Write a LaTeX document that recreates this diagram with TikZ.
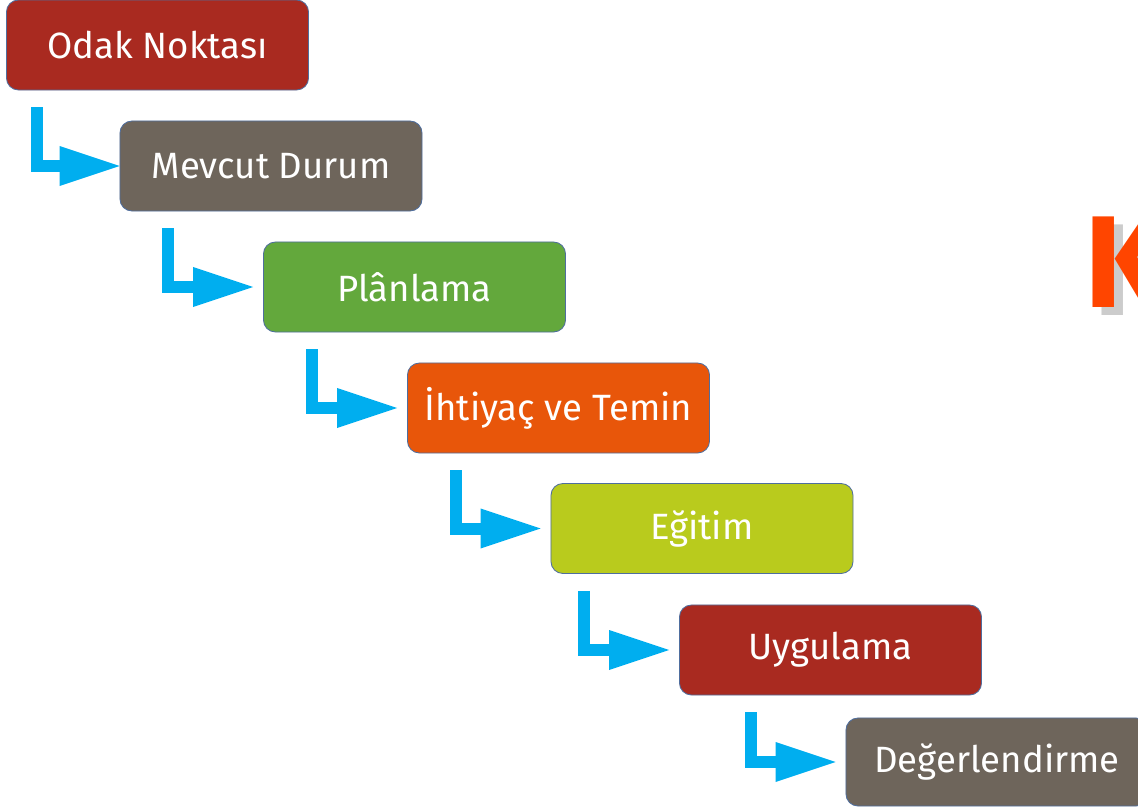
\documentclass[tikz,border=0pt]{standalone}
\usepackage{fontspec}
\setmainfont{Fira Sans}
\usetikzlibrary{arrows.meta, calc}

\definecolor{boxred}{HTML}{A92A20}
\definecolor{boxtaupe}{HTML}{6E655B}
\definecolor{boxgreen}{HTML}{63A83C}
\definecolor{boxorange}{HTML}{E8560A}
\definecolor{boxlime}{HTML}{B9CB1D}
\definecolor{boxline}{HTML}{4F6E9E}
\definecolor{arrowcyan}{HTML}{00AEEF}
\definecolor{bigorange}{HTML}{FF4500}
\definecolor{bigshadow}{HTML}{CCCCCC}

\begin{document}
\begin{tikzpicture}[x=0.025cm, y=-0.025cm]
    \tikzstyle{stage} = [rectangle, rounded corners=0.3cm, minimum width=7.55cm, minimum height=2.25cm, text centered, draw=boxline, line width=0.6pt, text=white, font=\fontsize{26}{31}\selectfont, inner sep=0pt]
    \tikzstyle{flowarrow} = [draw=arrowcyan, line width=0.3cm, -{Triangle[width=1cm, length=1.5cm, line width=0pt]}]
    \tikzstyle{bigletter} = [anchor=base west, inner sep=0pt, font=\fontsize{93}{100}\selectfont\bfseries]
    \useasboundingbox (0,0) rectangle (1138,808);
    \clip (0,0) rectangle (1138,808);
    % Nodes
    \node (odak) [stage, fill=boxred] at (157.5,45) {Odak Noktası};
    \node (mevcut) [stage, fill=boxtaupe] at (271,166) {Mevcut Durum};
    \node (plan) [stage, fill=boxgreen] at (414.5,287) {Plânlama};
    \node (ihtiyac) [stage, fill=boxorange] at (558.5,408) {İhtiyaç ve Temin};
    \node (egitim) [stage, fill=boxlime] at (702,528.5) {Eğitim};
    \node (uygulama) [stage, fill=boxred] at (830.5,650) {Uygulama};
    \node (deger) [stage, fill=boxtaupe, minimum height=2.2cm] at (997,762) {Değerlendirme};
    \node (kshadow) [bigletter, text=bigshadow] at (1093,315) {K};
    \node (kletter) [bigletter, text=bigorange] at (1084,307) {K};
    % Arrows
    \draw [flowarrow] ($(mevcut.west |- odak.south)+(-83,17)$) |- (mevcut.west);
    \draw [flowarrow, shorten >=0.25cm] ($(plan.west |- mevcut.south)+(-95,17)$) |- (plan.west);
    \draw [flowarrow, shorten >=0.25cm] ($(ihtiyac.west |- plan.south)+(-95,17)$) |- (ihtiyac.west);
    \draw [flowarrow, shorten >=0.25cm] ($(egitim.west |- ihtiyac.south)+(-95,17)$) |- (egitim.west);
    \draw [flowarrow, shorten >=0.25cm] ($(uygulama.west |- egitim.south)+(-95,17)$) |- (uygulama.west);
    \draw [flowarrow, shorten >=0.25cm] ($(deger.west |- uygulama.south)+(-95,17)$) |- (deger.west);
\end{tikzpicture}
\end{document}
